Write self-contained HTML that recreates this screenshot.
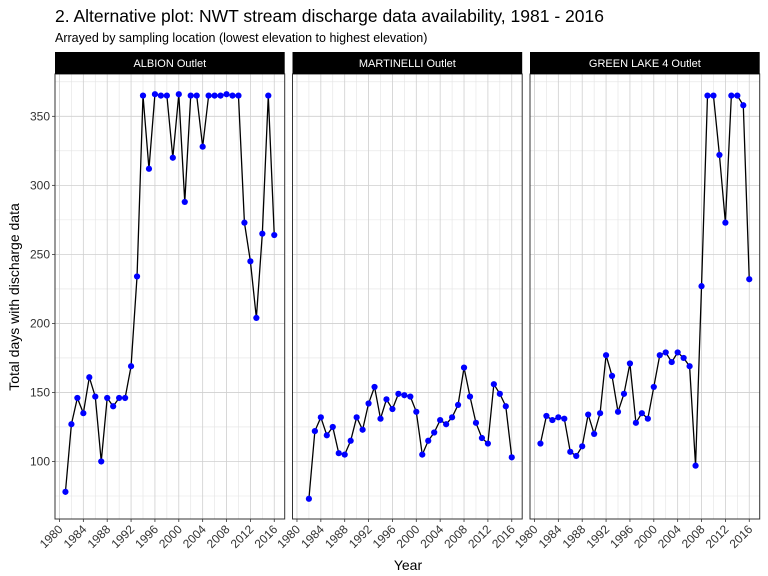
<!DOCTYPE html>
<html><head><meta charset="utf-8"><style>
body{margin:0;background:#fff;}
svg{display:block;font-family:"Liberation Sans",Arial,sans-serif;}
</style></head><body>
<svg id="chart" width="768" height="576" viewBox="0 0 768 576">
<text x="55" y="22" font-size="17.5" fill="#000">2. Alternative plot: NWT stream discharge data availability, 1981 - 2016</text>
<text x="55" y="42" font-size="12.5" fill="#000">Arrayed by sampling location (lowest elevation to highest elevation)</text>
<text transform="translate(19,297) rotate(-90)" text-anchor="middle" font-size="14" fill="#000">Total days with discharge data</text>
<text x="408" y="570" text-anchor="middle" font-size="14" fill="#000">Year</text>
</svg>
<script>
const sites = ["ALBION Outlet","MARTINELLI Outlet","GREEN LAKE 4 Outlet"];
const albionYears = [1981,1982,1983,1984,1985,1986,1987,1988,1989,1990,1991,1992,1993,1994,1995,1996,1997,1998,1999,2000,2001,2002,2003,2004,2005,2006,2007,2008,2009,2010,2011,2012,2013,2014,2015,2016];
const albionDays = [78,127,146,135,161,147,100,146,140,146,146,169,234,365,312,366,365,365,320,366,288,365,365,328,365,365,365,366,365,365,273,245,204,265,365,264];
const martinelliYears = [1982,1983,1984,1985,1986,1987,1988,1989,1990,1991,1992,1993,1994,1995,1996,1997,1998,1999,2000,2001,2002,2003,2004,2005,2006,2007,2008,2009,2010,2011,2012,2013,2014,2015,2016];
const martinelliDays = [73,122,132,119,125,106,105,115,132,123,142,154,131,145,138,149,148,147,136,105,115,121,130,127,132,141,168,147,128,117,113,156,149,140,103];
const greenYears = [1981,1982,1983,1984,1985,1986,1987,1988,1989,1990,1991,1992,1993,1994,1995,1996,1997,1998,1999,2000,2001,2002,2003,2004,2005,2006,2007,2008,2009,2010,2011,2012,2013,2014,2015,2016];
const greenDays = [113,133,130,132,131,107,104,111,134,120,135,177,162,136,149,171,128,135,131,154,177,179,172,179,175,169,97,227,365,365,322,273,365,365,358,232];
const xTicks = [1980,1984,1988,1992,1996,2000,2004,2008,2012,2016];
const yTicks = [100,150,200,250,300,350];

const svg = document.getElementById('chart');
const NS = 'http://www.w3.org/2000/svg';
const panelLefts = [55,292.5,530];
const PW = 229.7, PT = 74, PB = 519;
const xMin = 1979.25, xMax = 2017.75, yMin = 58.35, yMax = 380.65;
function mk(tag, attrs, parent){const e=document.createElementNS(NS,tag);for(const k in attrs)e.setAttribute(k,attrs[k]);(parent||svg).appendChild(e);return e;}
function yS(v){return PB - (v - yMin)/(yMax - yMin)*(PB-PT);}
const series = [[albionYears,albionDays],[martinelliYears,martinelliDays],[greenYears,greenDays]];

sites.forEach((site,i)=>{
  const L = panelLefts[i];
  const xS = yr => L + (yr - xMin)/(xMax - xMin)*PW;
  const g = mk('g',{});
  
  
  for(let yr=1978; yr<=2018; yr+=2){ if(yr%4===0) continue; const x=xS(yr); if(x<L||x>L+PW) continue;
    const l=mk('line',{x1:x,x2:x,y1:PT,y2:PB,stroke:'#e3e3e3','stroke-width':0.6},g);
      }
  for(let v=75; v<=375; v+=50){ const y=yS(v);
    const l=mk('line',{x1:L,x2:L+PW,y1:y,y2:y,stroke:'#e3e3e3','stroke-width':0.6},g);
      }
  xTicks.forEach(t=>{ const x=xS(t);
    const l=mk('line',{x1:x,x2:x,y1:PT,y2:PB,stroke:'#cfcfcf','stroke-width':0.8},g);
     
    const tk=mk('line',{x1:x,x2:x,y1:PB,y2:PB+3,stroke:'#333','stroke-width':0.8},g);
     
    const tx=mk('text',{transform:`translate(${x+4},${PB+11}) rotate(-45)`,'text-anchor':'end','font-size':12,fill:'#333'},g);
    tx.textContent=t;
     
  });
  yTicks.forEach(t=>{ const y=yS(t);
    const l=mk('line',{x1:L,x2:L+PW,y1:y,y2:y,stroke:'#cfcfcf','stroke-width':0.8},g);
     
    if(i===0){
      const tk=mk('line',{x1:L-3,x2:L,y1:y,y2:y,stroke:'#333','stroke-width':0.8},g);
       
      const tx=mk('text',{x:L-5,y:y+4,'text-anchor':'end','font-size':12,fill:'#333'},g);
      tx.textContent=t;
       
    }
  });
  const [yrs,vals] = series[i];
  const pts = yrs.map((yr,k)=>xS(yr).toFixed(2)+','+yS(vals[k]).toFixed(2)).join(' ');
  const pl = mk('polyline',{points:pts,fill:'none',stroke:'#000','stroke-width':1.3},g);
   
  yrs.forEach((yr,k)=>{
    const c=mk('circle',{cx:xS(yr),cy:yS(vals[k]),r:3.1,fill:'#0000ff'},g);
     
  });
  const b=mk('rect',{x:L,y:PT,width:PW,height:PB-PT,fill:'none',stroke:'#333','stroke-width':1},g);
   
  const s=mk('rect',{x:L,y:52,width:PW,height:22,fill:'#000'},g);
   
  const st=mk('text',{x:L+PW/2,y:67,'text-anchor':'middle','font-size':11,fill:'#fff'},g);
  st.textContent=site;
   
});
</script>
</body></html>
